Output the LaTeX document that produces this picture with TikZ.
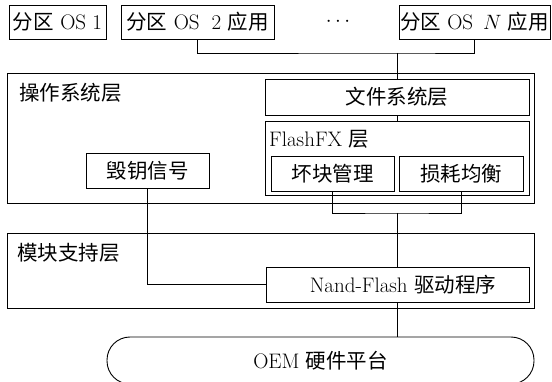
\documentclass[tikz,border=0pt]{standalone}
\usepackage{fontspec}
\newfontfamily\cjk{Noto Sans CJK SC}
\newcommand{\zh}[1]{{\fontsize{20.5}{23}\cjk #1}}
\begin{document}
\begin{tikzpicture}[x=1pt,y=-1pt,
  box/.style={draw, line width=0.9pt, fill=white, inner sep=0pt, align=center},
  lbl/.style={anchor=west, inner sep=0pt},
  wire/.style={line width=0.9pt},
  every node/.append style={font=\fontsize{21}{23}\selectfont}]
\useasboundingbox (0,0) rectangle (552,382);
% top partitions
\node[box, minimum width=97pt, minimum height=34pt] (p1) at (57.5,22) {\zh{分区} OS 1};
\node[box, minimum width=153pt, minimum height=34pt] (p2) at (197.5,22) {\zh{分区} OS\hspace{12pt}2 \zh{应用}};
\node[inner sep=0pt] (dots) at (338,22) {$\cdots$};
\node[box, minimum width=151pt, minimum height=34pt] (pN) at (474.5,22) {\zh{分区} OS\hspace{10pt}$N$ \zh{应用}};
% OS layer
\node[box, minimum width=527pt, minimum height=130pt] (os) at (270.5,138) {};
\node[lbl] (oslbl) at (19,93) {\zh{操作系统层}};
\node[box, minimum width=264pt, minimum height=36pt] (fs) at (397,97) {\zh{文件系统层}};
\node[box, minimum width=264pt, minimum height=74pt] (ffx) at (397,158) {};
\node[lbl] (ffxlbl) at (269,139) {FlashFX \zh{层}};
\node[box, minimum width=123pt, minimum height=35pt] (bad) at (332.5,173.5) {\zh{坏块管理}};
\node[box, minimum width=124pt, minimum height=35pt] (wear) at (461,173.5) {\zh{损耗均衡}};
\node[box, minimum width=123pt, minimum height=35pt] (key) at (147.5,170.5) {\zh{毁钥信号}};
% module support layer
\node[box, minimum width=527pt, minimum height=75pt] (mod) at (270.5,270.5) {};
\node[lbl] (modlbl) at (17,253) {\zh{模块支持层}};
\node[box, minimum width=263pt, minimum height=35pt] (nand) at (397.5,284.5) {\hspace*{11pt}Nand-Flash \zh{驱动程序}};
% OEM
\node[draw, line width=0.9pt, rounded corners=23pt, minimum width=427pt, minimum height=47pt, inner sep=0pt] (oem) at (320.5,360.5) {OEM \zh{硬件平台}};
% connectors
\coordinate (top) at (397,53);
\draw[wire] (p2.south) |- (top) -| (pN.south);
\draw[wire] (top) -- (top |- fs.north);
\draw[wire] (fs.south) -- (ffx.north);
\coordinate (br) at (397,213);
\draw[wire] (bad.south) |- (br) -| (wear.south);
\draw[wire] (br) -- (br |- nand.north);
\draw[wire] (key.south) |- (nand.west);
\draw[wire] (nand.south) -- (nand.south |- oem.north);
\end{tikzpicture}
\end{document}
